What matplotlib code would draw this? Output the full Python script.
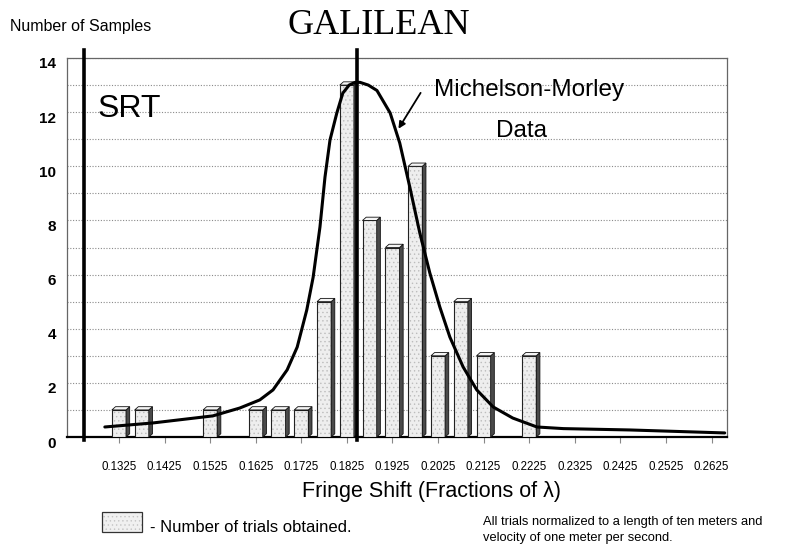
import matplotlib.pyplot as plt
import matplotlib.transforms as mtransforms
from matplotlib.patches import Polygon, Rectangle

plt.rcParams['font.family'] = ['Liberation Sans', 'DejaVu Sans']
plt.rcParams['hatch.linewidth'] = 0.5

# ---- data ----
shift = [0.1325, 0.1375, 0.1525, 0.1625, 0.1675, 0.1725, 0.1775, 0.1825,
         0.1875, 0.1925, 0.1975, 0.2025, 0.2075, 0.2125, 0.2225]
samples = [1, 1, 1, 1, 1, 1, 5, 13, 8, 7, 10, 3, 5, 3, 3]

# Michelson-Morley fitted curve
curve_x = [0.1294, 0.1400, 0.1531, 0.1590, 0.1634, 0.1663, 0.1694, 0.1716,
           0.1737, 0.1751, 0.1766, 0.1777, 0.1788, 0.1803, 0.1816, 0.1830,
           0.1843, 0.1854, 0.1872, 0.1891, 0.1920, 0.1941, 0.1963, 0.1985,
           0.2007, 0.2029, 0.2051, 0.2080, 0.2110, 0.2146, 0.2189, 0.2242,
           0.2300, 0.2446, 0.2654]
curve_y = [0.37, 0.52, 0.78, 1.07, 1.37, 1.74, 2.48, 3.32,
           4.69, 5.9, 7.76, 9.6, 10.97, 11.97, 12.7, 13.0,
           13.1, 13.1, 13.0, 12.8, 11.97, 10.86, 9.24, 7.54,
           6.06, 4.8, 3.69, 2.59, 1.74, 1.11, 0.70, 0.37,
           0.31, 0.26, 0.15]

tick_vals = [0.1325, 0.1425, 0.1525, 0.1625, 0.1725, 0.1825, 0.1925,
             0.2025, 0.2125, 0.2225, 0.2325, 0.2425, 0.2525, 0.2625]
srt_x = 0.1248
galilean_x = 0.1847

fig = plt.figure(figsize=(8.01, 5.52), dpi=100)
ax = fig.add_axes([67 / 801, 1 - 437 / 552, 660 / 801, 379 / 552])
ax.set_xlim(0.1211, 0.2659)
ax.set_ylim(0, 14)

# 3D-ish bars: dotted light front face, dark side, light top
w = 0.0031
d = 0.0008
dy = 0.12
ax.bar(shift, samples, width=w, color='#eeeeee', edgecolor='#bdbdbd', lw=0,
       hatch='....', zorder=3)
ax.bar(shift, samples, width=w, fill=False, edgecolor='#222222', lw=0.8, zorder=3)
for x, h in zip(shift, samples):
    side = Polygon([(x + w / 2, 0), (x + w / 2 + d, dy), (x + w / 2 + d, h + dy),
                    (x + w / 2, h)], closed=True, facecolor='#4a4a4a',
                   edgecolor='#111111', lw=0.6, zorder=3)
    top = Polygon([(x - w / 2, h), (x + w / 2, h), (x + w / 2 + d, h + dy),
                   (x - w / 2 + d, h + dy)], closed=True, facecolor='#f5f5f5',
                  edgecolor='#111111', lw=0.6, zorder=3)
    ax.add_patch(side)
    ax.add_patch(top)

ax.plot(curve_x, curve_y, color='black', lw=2.2, solid_joinstyle='round',
        solid_capstyle='round', zorder=5)

# SRT and GALILEAN markers
for vx in (srt_x, galilean_x):
    ax.plot([vx, vx], [-0.1, 14.3], color='black', lw=2.6, clip_on=False, zorder=6)

ax.text(0.1277, 12.1, 'SRT', fontsize=23, ha='left', va='center')
ax.text(0.2225, 12.8, 'Michelson-Morley', fontsize=17.5, ha='center', va='center')
ax.text(0.2209, 11.3, 'Data', fontsize=17.5, ha='center', va='center')
ax.annotate('', xy=(0.1935, 11.3), xytext=(0.1990, 12.8),
            arrowprops=dict(arrowstyle='-|>', color='black', lw=1.3,
                            mutation_scale=10))

# axes styling
ax.set_yticks(range(0, 15, 2))
ax.set_yticks(range(0, 15), minor=True)
ax.set_yticklabels([str(v) for v in range(0, 15, 2)], fontsize=11, fontweight='bold')
ax.grid(True, axis='y', which='both', linestyle=(0, (1, 1.5)), color='#8a8a8a', lw=0.8)
ax.set_axisbelow(True)
ax.tick_params(axis='y', which='both', length=0, pad=8)
shift_down = mtransforms.ScaledTranslation(0, -5 / 100, fig.dpi_scale_trans)
for lab in ax.get_yticklabels():
    lab.set_transform(lab.get_transform() + shift_down)

ax.set_xticks(tick_vals)
ax.set_xticklabels(['%.4f' % v for v in tick_vals], fontsize=8.3)
ax.tick_params(axis='x', length=4, color='#888888', pad=13)

for s in ('top', 'right', 'left'):
    ax.spines[s].set_color('#666666')
    ax.spines[s].set_linewidth(0.9)
ax.spines['bottom'].set_color('black')
ax.spines['bottom'].set_linewidth(1.6)

# figure texts
fig.text(10 / 801, 1 - 27 / 552, 'Number of Samples', fontsize=11.5,
         ha='left', va='center')
fig.text(379 / 801, 1 - 25 / 552, 'GALILEAN', fontsize=26, ha='center', va='center',
         family=['Liberation Serif', 'DejaVu Serif'])
fig.text(431 / 801, 1 - 492 / 552, 'Fringe Shift (Fractions of λ)', fontsize=15.5,
         ha='center', va='center')

box = (102 / 801, 1 - 532 / 552)
fig.patches.append(Rectangle(box, 40 / 801, 20 / 552, transform=fig.transFigure,
                             facecolor='#f0f0f0', edgecolor='#c4c4c4', lw=0,
                             hatch='....'))
fig.patches.append(Rectangle(box, 40 / 801, 20 / 552, transform=fig.transFigure,
                             fill=False, edgecolor='#333333', lw=0.9))
fig.text(150 / 801, 1 - 527 / 552, '- Number of trials obtained.', fontsize=12,
         ha='left', va='center')
fig.text(483 / 801, 1 - 522 / 552, 'All trials normalized to a length of ten meters and',
         fontsize=9.3, ha='left', va='center')
fig.text(483 / 801, 1 - 538 / 552, 'velocity of one meter per second.',
         fontsize=9.3, ha='left', va='center')

fig.savefig('out.png', dpi=100)
